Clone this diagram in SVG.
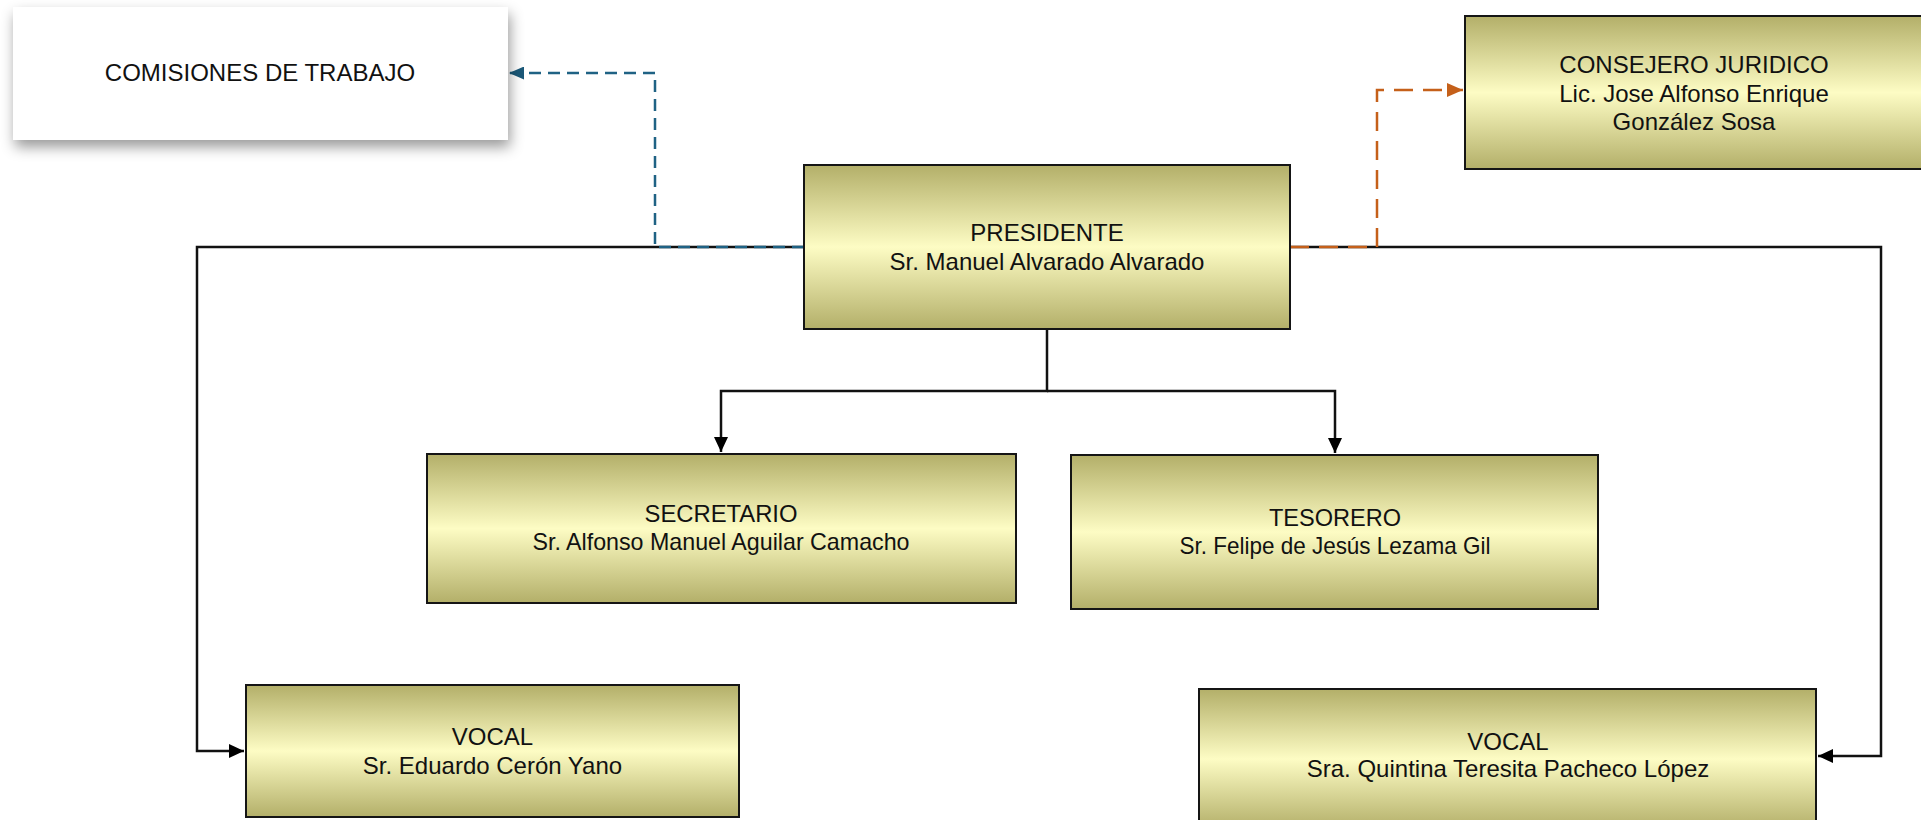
<svg xmlns="http://www.w3.org/2000/svg" width="1921" height="820" viewBox="0 0 1921 820">
<style>
.box{fill:url(#olive);stroke:#151515;stroke-width:2}
.t{font-family:"Liberation Sans",Arial,sans-serif;font-size:24px;fill:#111;text-anchor:middle}
.ln{fill:none;stroke:#111;stroke-width:2.5}
.blue{fill:none;stroke:#1f6284;stroke-width:2.5;stroke-dasharray:12 7}
.orange{fill:none;stroke:#c5601a;stroke-width:2.5;stroke-dasharray:19 10}
</style>
<defs>
<linearGradient id="olive" x1="0" y1="0" x2="0" y2="1">
<stop offset="0" stop-color="#b3af69"/>
<stop offset="0.5" stop-color="#fdfcc4"/>
<stop offset="1" stop-color="#b3af69"/>
</linearGradient>
<filter id="shadow" x="-10%" y="-20%" width="120%" height="150%">
<feDropShadow dx="2" dy="7" stdDeviation="7" flood-color="#000" flood-opacity="0.4"/>
</filter>
<marker id="ak" markerUnits="userSpaceOnUse" markerWidth="15" markerHeight="14" refX="15" refY="7" orient="auto">
<path d="M0,0 L15,7 L0,14 z" fill="#000"/>
</marker>
<marker id="ab" markerUnits="userSpaceOnUse" markerWidth="15" markerHeight="13" refX="15" refY="6.5" orient="auto">
<path d="M0,0 L15,6.5 L0,13 z" fill="#1a5878"/>
</marker>
<marker id="ao" markerUnits="userSpaceOnUse" markerWidth="16" markerHeight="14" refX="16" refY="7" orient="auto">
<path d="M0,0 L16,7 L0,14 z" fill="#c5601a"/>
</marker>
</defs>
<rect width="1921" height="820" fill="#fff"/>

<g id="connectors">
<path class="ln" d="M804,247 H197 V751 H244" marker-end="url(#ak)"/>
<path class="ln" d="M1290,247 H1881 V756 H1818" marker-end="url(#ak)"/>
<path class="ln" d="M1047,329 V391 H721 V452" marker-end="url(#ak)"/>
<path class="ln" d="M1047,391 H1335 V453" marker-end="url(#ak)"/>
<path class="blue" d="M804,247 H655 V73 H509" marker-end="url(#ab)"/>
<path class="orange" d="M1290,247 H1377 V90 H1463" marker-end="url(#ao)"/>
</g>

<g id="comisiones">
<rect x="13" y="7" width="495" height="133" fill="#fff" filter="url(#shadow)"/>
<text class="t" x="260" y="81">COMISIONES DE TRABAJO</text>
</g>

<g id="consejero">
<rect class="box" x="1465" y="16" width="460" height="153"/>
<text class="t" x="1694" y="73">CONSEJERO JURIDICO</text>
<text class="t" x="1694" y="101.5">Lic. Jose Alfonso Enrique</text>
<text class="t" x="1694" y="130">González Sosa</text>
</g>

<g id="presidente">
<rect class="box" x="804" y="165" width="486" height="164"/>
<text class="t" x="1047" y="241">PRESIDENTE</text>
<text class="t" x="1047" y="270">Sr. Manuel Alvarado Alvarado</text>
</g>

<g id="secretario">
<rect class="box" x="427" y="454" width="589" height="149"/>
<text class="t" x="721" y="521.5" textLength="153" lengthAdjust="spacingAndGlyphs">SECRETARIO</text>
<text class="t" x="721" y="550" textLength="377" lengthAdjust="spacingAndGlyphs">Sr. Alfonso Manuel Aguilar Camacho</text>
</g>

<g id="tesorero">
<rect class="box" x="1071" y="455" width="527" height="154"/>
<text class="t" x="1335" y="526" textLength="132" lengthAdjust="spacingAndGlyphs">TESORERO</text>
<text class="t" x="1335" y="554" textLength="311" lengthAdjust="spacingAndGlyphs">Sr. Felipe de Jesús Lezama Gil</text>
</g>

<g id="vocal-izq">
<rect class="box" x="246" y="685" width="493" height="132"/>
<text class="t" x="492.5" y="744.5">VOCAL</text>
<text class="t" x="492.5" y="774">Sr. Eduardo Cerón Yano</text>
</g>

<g id="vocal-der">
<rect class="box" x="1199" y="689" width="617" height="140"/>
<text class="t" x="1508" y="750">VOCAL</text>
<text class="t" x="1508" y="777">Sra. Quintina Teresita Pacheco López</text>
</g>
</svg>
